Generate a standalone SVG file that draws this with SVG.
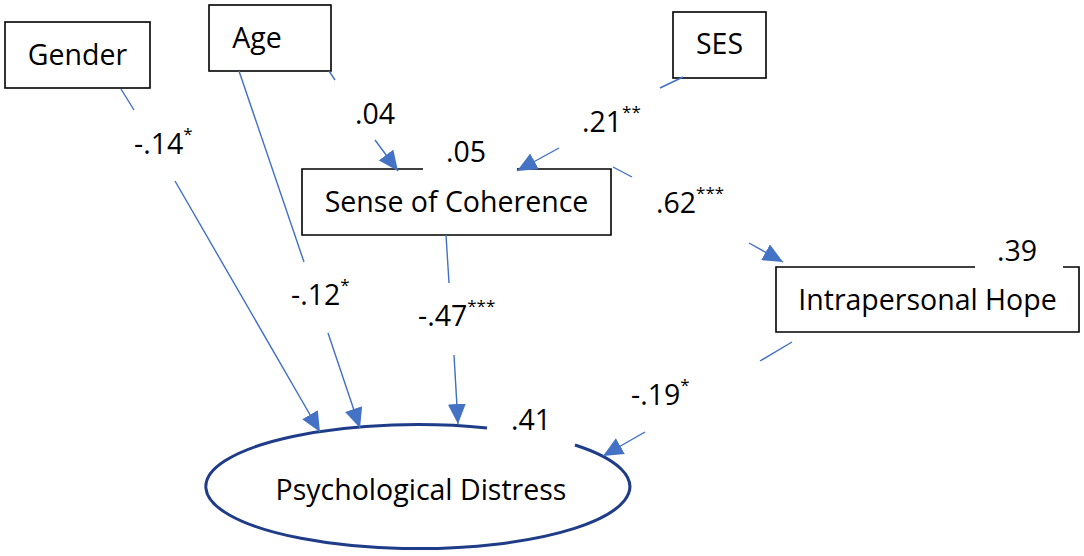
<svg xmlns="http://www.w3.org/2000/svg" width="1084" height="556" viewBox="0 0 1084 556">
<style>
.box{fill:none;stroke:#000;stroke-width:1.6}
.lbl{font-family:"Open Sans","Noto Sans",sans-serif;font-size:28.5px;fill:#000}
.num{font-family:"Open Sans","Noto Sans",sans-serif;font-size:28.5px;fill:#000}
.sup{font-size:17px}
.ln{fill:none;stroke:#3F6FC6;stroke-width:1.4}
</style>
<defs>
<marker id="ah" markerUnits="userSpaceOnUse" markerWidth="22" markerHeight="18" refX="20" refY="9" orient="auto">
<path d="M0,0 L20,9 L0,18 Z" fill="#4472C4"/>
</marker>
</defs>
<rect width="1084" height="556" fill="#fff"/>
<g id="gender"><rect class="box" x="5" y="22" width="145" height="66"/><text class="lbl" x="77.5" y="65" text-anchor="middle">Gender</text></g>
<g id="age"><rect class="box" x="209" y="5" width="122" height="66"/><text class="lbl" x="257" y="48" text-anchor="middle">Age</text></g>
<g id="ses"><rect class="box" x="673" y="12" width="93" height="66"/><text class="lbl" x="719.5" y="54" text-anchor="middle">SES</text></g>
<g id="soc"><path class="box" d="M423,169 L302,169 L302,235 L611,235 L611,169 L517,169"/><text class="lbl" x="456.5" y="212" text-anchor="middle">Sense of Coherence</text><text class="num" x="446" y="162">.05</text></g>
<g id="hope"><path class="box" d="M975,267 L776,267 L776,332 L1079,332 L1079,267 L1063,267"/><text class="lbl" x="927.5" y="310" text-anchor="middle">Intrapersonal Hope</text><text class="num" x="997" y="261">.39</text></g>
<g id="distress"><path d="M575,445 A212,62 0 1 1 487,428" fill="none" stroke="#1F3C88" stroke-width="3"/><text class="lbl" x="421" y="500" text-anchor="middle">Psychological Distress</text><text class="num" x="511" y="430">.41</text></g>
<g id="connectors">
<line class="ln" x1="121" y1="89" x2="134" y2="110"/><line class="ln" x1="175" y1="181" x2="320" y2="432" marker-end="url(#ah)"/>
<text class="num" x="134" y="154">-.14<tspan class="sup" dy="-14">*</tspan></text>
<line class="ln" x1="239" y1="71" x2="304" y2="262"/><line class="ln" x1="328" y1="333" x2="360" y2="428" marker-end="url(#ah)"/>
<text class="num" x="291" y="305">-.12<tspan class="sup" dy="-14">*</tspan></text>
<line class="ln" x1="329" y1="71" x2="335" y2="80"/><line class="ln" x1="375" y1="140" x2="398" y2="171" marker-end="url(#ah)"/>
<text class="num" x="355" y="124">.04</text>
<line class="ln" x1="683" y1="77" x2="660" y2="88"/><line class="ln" x1="559" y1="148" x2="517" y2="171" marker-end="url(#ah)"/>
<text class="num" x="582" y="132">.21<tspan class="sup" dy="-14">**</tspan></text>
<line class="ln" x1="613" y1="167" x2="632" y2="177"/><line class="ln" x1="749" y1="243" x2="783" y2="262" marker-end="url(#ah)"/>
<text class="num" x="656" y="213">.62<tspan class="sup" dy="-14">***</tspan></text>
<line class="ln" x1="446" y1="235" x2="449" y2="283"/><line class="ln" x1="454" y1="355" x2="458" y2="424" marker-end="url(#ah)"/>
<text class="num" x="418" y="326">-.47<tspan class="sup" dy="-14">***</tspan></text>
<line class="ln" x1="792" y1="342" x2="760" y2="361"/><line class="ln" x1="645" y1="432" x2="603" y2="456" marker-end="url(#ah)"/>
<text class="num" x="631" y="405">-.19<tspan class="sup" dy="-14">*</tspan></text>
</g>
</svg>
